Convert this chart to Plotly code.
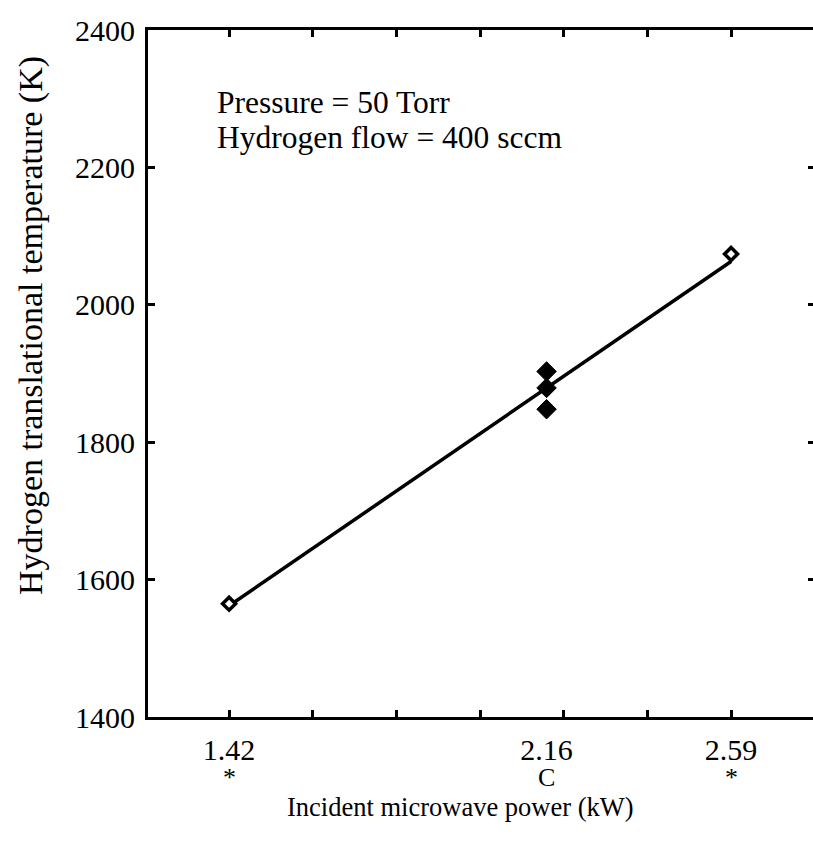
import plotly.graph_objects as go

# ---- data ----
power_kw = [1.42, 2.16, 2.16, 2.16, 2.59]
temperature_k = [1565, 1903, 1879, 1848, 2074]
point_style = ["open", "filled", "filled", "filled", "open"]
fit_power = [1.42, 2.59]
fit_temperature = [1562, 2063]

x_label_vals = [1.42, 2.16, 2.59]
x_label_text = ["1.42", "2.16", "2.59"]
x_mark_text = ["*", "C", "*"]
x_minor_ticks = [1.42, 1.615, 1.81, 2.005, 2.20, 2.395, 2.59]
y_ticks = [1400, 1600, 1800, 2000, 2200, 2400]

x_range = [1.231, 2.781]
y_range = [1400, 2400]

FONT = "Liberation Serif, Times New Roman, serif"

fig = go.Figure()

fig.add_trace(go.Scatter(
    x=fit_power, y=fit_temperature, mode="lines",
    line=dict(color="black", width=3.5), showlegend=False, hoverinfo="skip"))

open_x = [x for x, s in zip(power_kw, point_style) if s == "open"]
open_y = [y for y, s in zip(temperature_k, point_style) if s == "open"]
fill_x = [x for x, s in zip(power_kw, point_style) if s == "filled"]
fill_y = [y for y, s in zip(temperature_k, point_style) if s == "filled"]

fig.add_trace(go.Scatter(
    x=open_x, y=open_y, mode="markers",
    marker=dict(symbol="diamond", size=10, color="white",
                line=dict(color="black", width=3.5)), showlegend=False))
fig.add_trace(go.Scatter(
    x=fill_x, y=fill_y, mode="markers",
    marker=dict(symbol="diamond", size=15, color="black",
                line=dict(color="black", width=1)), showlegend=False))

# invisible trace to activate secondary axes
fig.add_trace(go.Scatter(x=[x_range[0]], y=[y_range[0]], xaxis="x2", yaxis="y2",
                         mode="markers", marker=dict(opacity=0), showlegend=False,
                         hoverinfo="skip"))

fig.update_layout(
    width=813, height=843,
    margin=dict(l=148, r=0, t=30, b=126),
    plot_bgcolor="white", paper_bgcolor="white",
    font=dict(family=FONT, color="black"),
    xaxis=dict(range=x_range, tickvals=x_label_vals, ticktext=x_label_text,
               ticks="", showline=False, showgrid=False, zeroline=False,
               tickfont=dict(size=30), ticklabelstandoff=12),
    xaxis2=dict(range=x_range, overlaying="x", side="bottom", anchor="y",
                tickvals=x_minor_ticks, showticklabels=False,
                ticks="inside", ticklen=7, tickwidth=3, tickcolor="black",
                showline=True, linecolor="black", linewidth=3, mirror="ticks",
                showgrid=False, zeroline=False),
    yaxis=dict(range=y_range, tickvals=y_ticks, ticks="inside", ticklen=7,
               tickwidth=3, tickcolor="black", showline=True, linecolor="black",
               linewidth=3, showgrid=False, zeroline=False,
               tickfont=dict(size=30), ticklabelstandoff=4),
    yaxis2=dict(range=y_range, overlaying="y", side="right", anchor="x",
                tickvals=y_ticks[1:-1], showticklabels=False, ticks="inside",
                ticklen=5, tickwidth=3, tickcolor="black", showline=False,
                showgrid=False, zeroline=False),
)

for xv, txt in zip(x_label_vals, x_mark_text):
    fig.add_annotation(x=xv, y=0, xref="x", yref="paper", yshift=-(777 - 717),
                       text=txt, showarrow=False, yanchor="middle", borderpad=0,
                       font=dict(size=26, family=FONT))

ann_left = (215 - 148) / 665
fig.add_annotation(x=ann_left, y=1 - (103 - 30) / 687, xref="paper", yref="paper",
                   text="Pressure = 50 Torr", showarrow=False, xanchor="left",
                   yanchor="middle", font=dict(size=31.5, family=FONT))
fig.add_annotation(x=ann_left, y=1 - (137 - 30) / 687, xref="paper", yref="paper",
                   text="Hydrogen flow = 400 sccm", showarrow=False, xanchor="left",
                   yanchor="middle", font=dict(size=31.5, family=FONT))

fig.add_annotation(x=(460 - 148) / 665, y=-(807 - 717) / 687, xref="paper",
                   yref="paper", text="Incident microwave power (kW)",
                   showarrow=False, xanchor="center", yanchor="middle", borderpad=0,
                   font=dict(size=26.5, family=FONT))
fig.add_annotation(x=-(148 - 31) / 665, y=1 - (326 - 30) / 687, xref="paper",
                   yref="paper", text="Hydrogen translational temperature (K)",
                   textangle=-90, showarrow=False, xanchor="center",
                   yanchor="middle", font=dict(size=34, family=FONT))

fig.write_html("out.html")
